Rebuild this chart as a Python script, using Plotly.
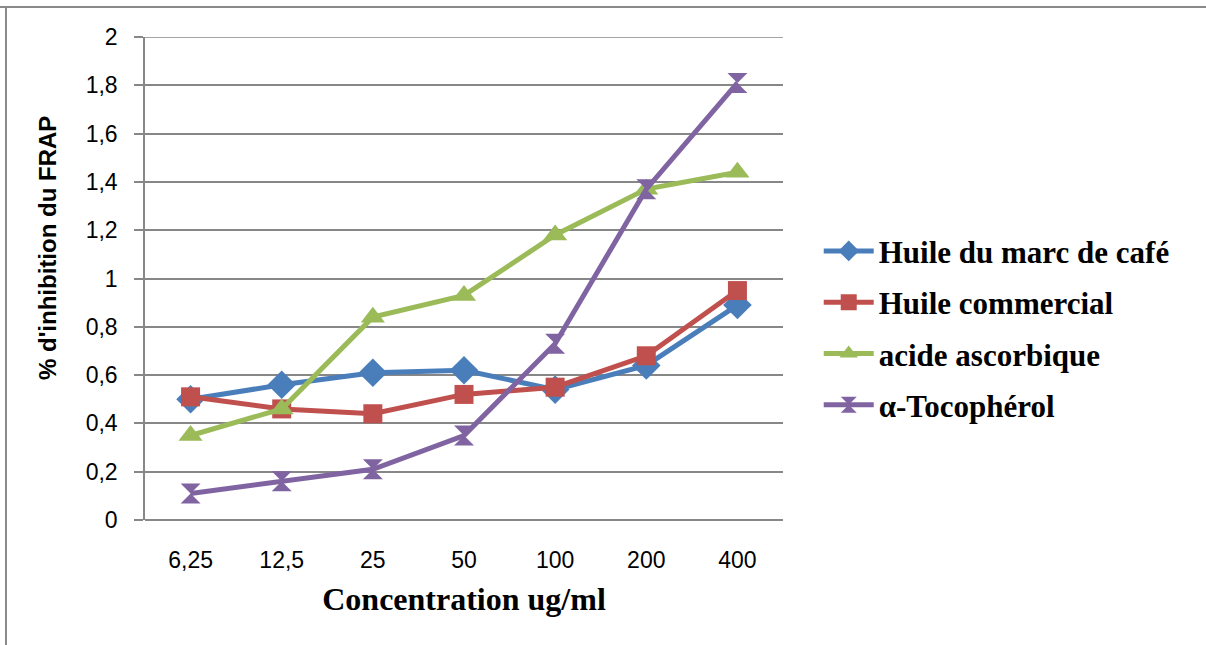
import plotly.graph_objects as go

concentrations = ["6,25", "12,5", "25", "50", "100", "200", "400"]
huile_marc_cafe = [0.50, 0.56, 0.61, 0.62, 0.54, 0.64, 0.89]
huile_commercial = [0.51, 0.46, 0.44, 0.52, 0.55, 0.68, 0.95]
acide_ascorbique = [0.35, 0.46, 0.84, 0.93, 1.18, 1.37, 1.44]
tocopherol = [0.11, 0.16, 0.21, 0.35, 0.73, 1.37, 1.81]

y_ticks = [0, 0.2, 0.4, 0.6, 0.8, 1, 1.2, 1.4, 1.6, 1.8, 2]
y_tick_text = ["0", "0,2", "0,4", "0,6", "0,8", "1", "1,2", "1,4", "1,6", "1,8", "2"]

series = [
    ("Huile du marc de café", huile_marc_cafe, "#4A7EBB", "diamond", 22),
    ("Huile commercial", huile_commercial, "#C0504D", "square", 19),
    ("acide ascorbique", acide_ascorbique, "#9BBB59", "triangle-up", 21),
    ("α-Tocophérol", tocopherol, "#8064A2", "hourglass", 20),
]

fig = go.Figure()
for i, (name, vals, color, symbol, size) in enumerate(series):
    fig.add_trace(go.Scatter(
        x=concentrations, y=vals, name=name, mode="lines+markers",
        line=dict(color=color, width=5),
        marker=dict(symbol=symbol, size=size, color=color,
                    line=dict(width=0)),
        legendgroup=str(i),
    ))

grid = "#878787"
plot_w = 638
plot_h = 483
fig.update_layout(
    width=1206, height=645,
    margin=dict(l=145, r=423, t=37, b=125),
    paper_bgcolor="white", plot_bgcolor="white",
    showlegend=True,
    legend=dict(
        x=1.056, y=0.397, xanchor="left", yanchor="middle",
        font=dict(family="Liberation Serif", size=31, color="black", weight="bold"),
        itemwidth=50, tracegroupgap=8,
        bgcolor="rgba(0,0,0,0)",
    ),
    xaxis=dict(
        type="category", showgrid=False, showline=False, ticks="",
        tickfont=dict(family="Liberation Sans", size=23, color="black"),
        ticklabelstandoff=24,
        title=dict(text="Concentration ug/ml", standoff=15,
                   font=dict(family="Liberation Serif", size=32, color="black", weight="bold")),
        range=[-0.5, 6.5], zeroline=False,
    ),
    yaxis=dict(
        range=[0, 2], tickvals=y_ticks, ticktext=y_tick_text,
        showgrid=True, gridcolor=grid, gridwidth=1.5,
        showline=True, linecolor=grid, linewidth=1.5,
        ticks="outside", ticklen=9, tickcolor=grid, tickwidth=1.5,
        zeroline=True, zerolinecolor=grid, zerolinewidth=1.5,
        tickfont=dict(family="Liberation Sans", size=23, color="black"),
        ticklabelstandoff=12,
    ),
    annotations=[
        dict(text="% d'inhibition du FRAP", textangle=-90, showarrow=False,
             xref="paper", yref="paper", x=-98 / plot_w, y=272 / plot_h,
             xanchor="center", yanchor="middle",
             font=dict(family="Liberation Sans", size=24, color="black", weight="bold")),
    ],
    shapes=[
        # outer frame (top and left edges)
        dict(type="line", xref="paper", yref="paper",
             x0=-145 / plot_w, x1=1.8, y0=1 + 30 / plot_h, y1=1 + 30 / plot_h,
             line=dict(color="#8A8A8A", width=2)),
        dict(type="line", xref="paper", yref="paper",
             x0=-139 / plot_w, x1=-139 / plot_w, y0=-0.3, y1=1 + 30 / plot_h,
             line=dict(color="#8A8A8A", width=2)),
        # top gridline and axis line extensions over the tick marks
        dict(type="line", xref="paper", yref="y",
             x0=-9 / plot_w, x1=1, y0=2, y1=2,
             line=dict(color=grid, width=1.5)),
        dict(type="line", xref="paper", yref="y",
             x0=-9 / plot_w, x1=0, y0=0, y1=0,
             line=dict(color=grid, width=1.5)),
    ],
)

fig.write_html("out.html")
